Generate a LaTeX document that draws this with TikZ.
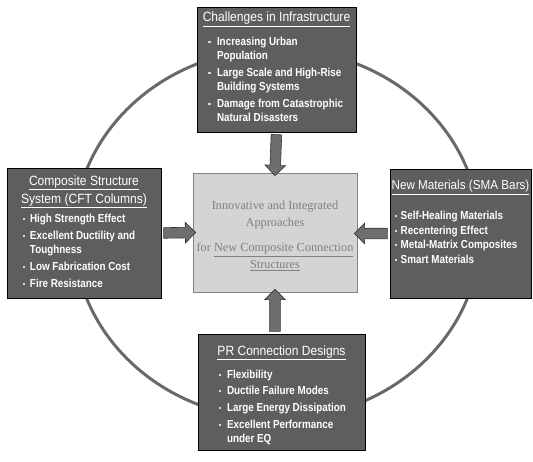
\documentclass[tikz,border=0pt]{standalone}
\usepackage{fontspec}
\usepackage{enumitem}
\usetikzlibrary{shapes.arrows,calc}
\newfontfamily\boxfont{Liberation Sans}[FakeStretch=0.9]
\newfontfamily\itemfont{Liberation Sans}[FakeStretch=0.85]
\newfontfamily\corefont{Liberation Serif}
\definecolor{boxgray}{RGB}{94,94,94}
\definecolor{ringgray}{RGB}{105,105,105}
\definecolor{arrowfill}{RGB}{110,110,110}
\definecolor{arrowedge}{RGB}{50,50,50}
\definecolor{corefill}{RGB}{212,212,212}
\definecolor{coreedge}{RGB}{130,130,130}
\definecolor{coretext}{RGB}{128,128,128}
\newcommand{\titlesize}{\boxfont\fontsize{13.4}{18}\selectfont}
\newcommand{\itemsize}{\itemfont\bfseries\fontsize{11.6}{14.2}\selectfont}
\newcommand{\bulletmark}{\textcolor{white!85!black}{\rule[2.4pt]{2.2pt}{2.2pt}}}
\setlist[itemize]{nosep,label=\bulletmark,labelwidth=2.2pt,itemsep=2.5pt}
\tikzset{
  darkbox/.style={draw=black, fill=boxgray, line width=0.8pt, inner sep=0pt, text=white},
  corebox/.style={draw=coreedge, fill=corefill, line width=0.8pt, inner sep=0pt, text=coretext},
  ring/.style={draw=ringgray, line width=3pt},
  blockarrow/.style={single arrow, draw=arrowedge, fill=arrowfill, line width=0.6pt,
    inner xsep=0pt, inner ysep=5pt, single arrow head extend=5pt, minimum width=20pt,
    sloped, allow upside down, midway}
}
\begin{document}
\begin{tikzpicture}[x=1pt,y=-1pt]
\useasboundingbox (0,0) rectangle (533,461);

% Drawing the ring behind the boxes
\draw[ring] (277,234) ellipse [x radius=203, y radius=185];

% Top box
\node[darkbox] (infra) at (276.5,69.5) {\begin{minipage}[c][125pt][t]{159pt}
\vspace*{5pt}
{\centering\titlesize\underline{Challenges in Infrastructure}\par}
\vspace{9.8pt}
\itemsize
\begin{itemize}[leftmargin=20pt,labelsep=6.5pt]
\item Increasing Urban\newline Population
\item Large Scale and High-Rise\newline Building Systems
\item Damage from Catastrophic\newline Natural Disasters
\end{itemize}
\end{minipage}};

% Left box
\node[darkbox] (cft) at (84,233) {\begin{minipage}[c][130pt][t]{154pt}
\vspace*{7.4pt}
{\centering\titlesize\underline{Composite Structure}\\\underline{System (CFT Columns)}\par}
\vspace{5.5pt}
\itemsize
\begin{itemize}[leftmargin=23pt,labelsep=4.7pt]
\item High Strength Effect
\item Excellent Ductility and\newline Toughness
\item Low Fabrication Cost
\item Fire Resistance
\end{itemize}
\end{minipage}};

% Right box
\node[darkbox] (sma) at (460.5,233.5) {\begin{minipage}[c][129pt][t]{141pt}
\vspace*{11.4pt}
{\centering\boxfont\fontsize{13}{18}\selectfont\underline{New Materials (SMA Bars)}\par}
\vspace{15.8pt}
\itemsize
\begin{itemize}[leftmargin=10.7pt,labelsep=3.5pt,itemsep=0.3pt]
\item Self-Healing Materials
\item Recentering Effect
\item Metal-Matrix Composites
\item Smart Materials
\end{itemize}
\end{minipage}};

% Bottom box
\node[darkbox] (pr) at (281.5,392) {\begin{minipage}[c][116pt][t]{167pt}
\vspace*{11.4pt}
{\centering\titlesize\underline{PR Connection Designs}\par}
\vspace{8.8pt}
\itemsize
\begin{itemize}[leftmargin=29pt,labelsep=5.8pt]
\item Flexibility
\item Ductile Failure Modes
\item Large Energy Dissipation
\item Excellent Performance\newline under EQ
\end{itemize}
\end{minipage}};

% Centre box
\node[corebox] (core) at (275,232.5) {\begin{minipage}[c][119pt][t]{164pt}
\vspace*{27.6pt}
\centering\corefont\fontsize{12.3}{17}\selectfont
Innovative and Integrated\\ Approaches\par
\vspace{8.7pt}
for \underline{New Composite Connection}\\ \underline{Structures}\par
\end{minipage}};

% Drawing the block arrows into the centre box
\path (infra.south) -- (core.north) node[blockarrow, minimum height=41pt] (arrInfra) {};
\path (cft.east) -- (core.west) node[blockarrow, minimum height=32pt] (arrCft) {};
\path (sma.west) -- (core.east |- sma.west) node[blockarrow, minimum height=33pt] (arrSma) {};
\path (core.south |- pr.north) -- (core.south) node[blockarrow, minimum height=42pt] (arrPr) {};
\end{tikzpicture}
\end{document}
